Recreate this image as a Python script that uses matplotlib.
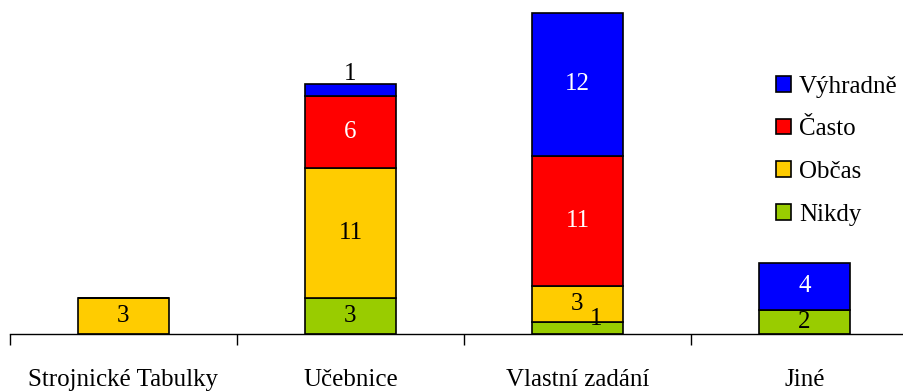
import matplotlib
matplotlib.use("Agg")
import matplotlib.pyplot as plt
from matplotlib.patches import Patch
import numpy as np

categories = ["Strojnické Tabulky", "Učebnice", "Vlastní zadání", "Jiné"]
series_names = ["Nikdy", "Občas", "Často", "Výhradně"]
nikdy = [0, 3, 1, 2]
obcas = [3, 11, 3, 0]
casto = [0, 6, 11, 0]
vyhradne = [0, 1, 12, 4]
colors = ["#99CC00", "#FFCC00", "#FF0000", "#0000FF"]
text_colors = ["black", "black", "white", "white"]

plt.rcParams["font.family"] = ["Liberation Serif", "DejaVu Serif"]
FS = 18

W, H = 904, 392
fig = plt.figure(figsize=(W / 100, H / 100), dpi=100)
unit = 11.89
base = 334
ax = fig.add_axes([10 / W, (H - base) / H, 908 / W, 28 * unit / H])
ax.set_xlim(-0.5, 3.5)
ax.set_ylim(0, 28)

x = np.arange(len(categories))
width = 0.405
data = [nikdy, obcas, casto, vyhradne]
bottom = np.zeros(len(categories))
for vals, name, col, tcol in zip(data, series_names, colors, text_colors):
    vals = np.array(vals, dtype=float)
    ax.bar(x, vals, width, bottom=bottom, color=col, edgecolor="black",
           linewidth=1.2, label=name)
    for i, v in enumerate(vals):
        if v <= 0:
            continue
        cx, cy, c = x[i], bottom[i] + v / 2, tcol
        if v < 2:
            # thin segments get their label nudged off the segment
            if bottom[i] + v >= 20:
                cx, cy, c = x[i], bottom[i] + v + 0.85, "black"
            else:
                cx, cy = x[i] + 0.08, bottom[i] + v / 2 + 0.8
        ax.text(cx, cy, f"{int(v)}", ha="center", va="center",
                fontsize=FS, color=c)
    bottom += vals

for s in ["top", "right", "left"]:
    ax.spines[s].set_visible(False)
ax.spines["bottom"].set_linewidth(1.0)
ax.set_yticks([])
ax.set_xticks(np.arange(-0.5, 3.5, 1.0))
ax.set_xticklabels([])
ax.tick_params(axis="x", direction="out", length=8, width=1.0)
for i, c in enumerate(categories):
    ax.text(x[i], -3.9, c, ha="center", va="center", fontsize=FS)

handles = [Patch(facecolor=colors[k], edgecolor="black", linewidth=1.2,
                 label=series_names[k]) for k in [3, 2, 1, 0]]
fig.legend(handles=handles, loc="upper left",
           bbox_to_anchor=(764 / W, 1 - 63 / H), frameon=False,
           fontsize=FS, handlelength=0.6, handleheight=0.6,
           handletextpad=0.3, labelspacing=0.83, borderpad=0.0)

fig.savefig("out.png", dpi=100)
